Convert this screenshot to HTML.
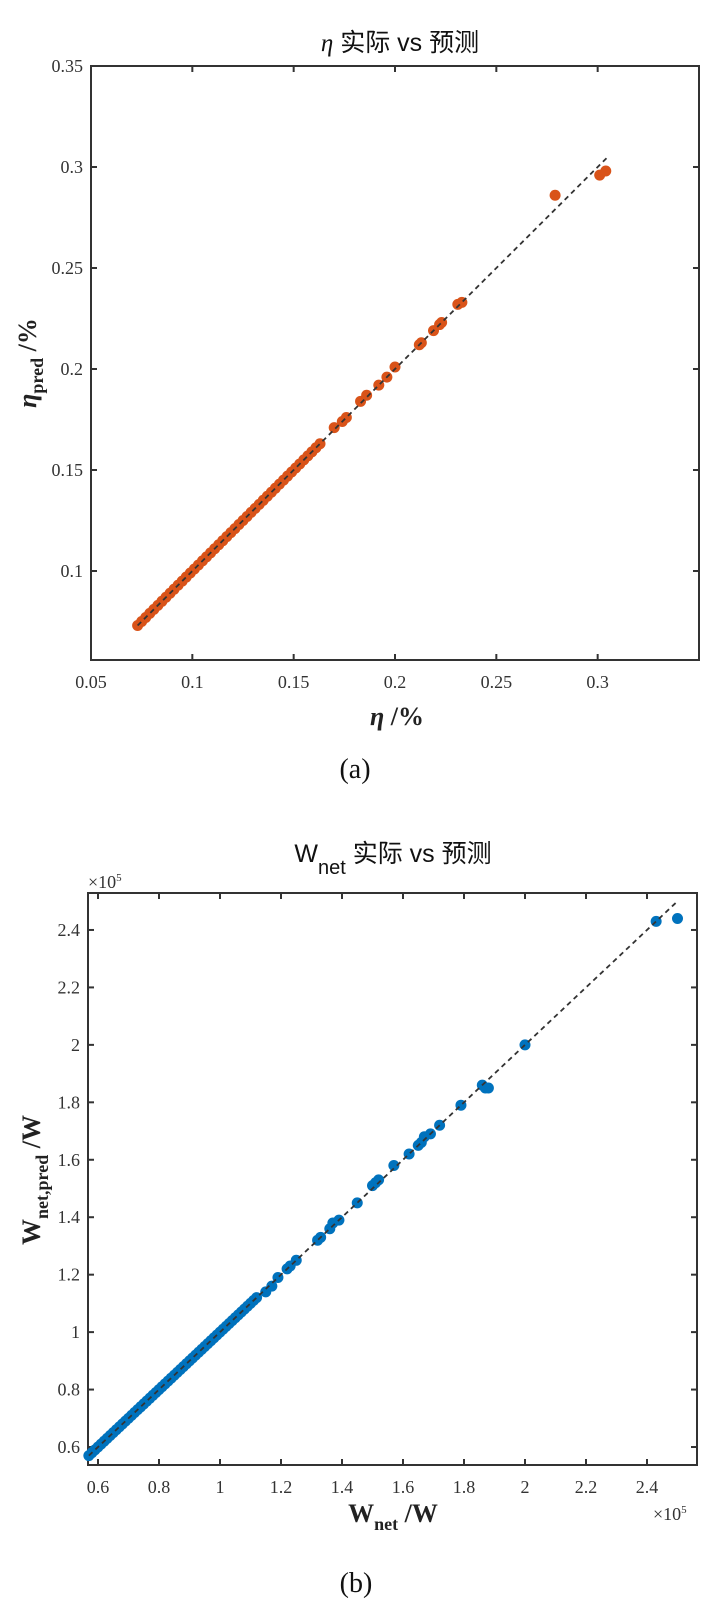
<!DOCTYPE html>
<html><head><meta charset="utf-8">
<style>
html,body{margin:0;padding:0;background:#fff;}
svg{display:block;}
.tk{font-family:"Liberation Serif",serif;font-size:18px;fill:#333;}
.ttl{font-family:"Liberation Sans","Noto Sans CJK SC",sans-serif;font-size:25px;fill:#111;}
.lab{font-family:"Liberation Serif",serif;font-size:26px;font-weight:bold;fill:#222;}
.cap{font-family:"Liberation Serif",serif;font-size:28px;fill:#111;}
</style></head>
<body>
<svg id="fig" width="711" height="1624" xmlns="http://www.w3.org/2000/svg">
<text class="ttl" x="400" y="51" text-anchor="middle"><tspan font-family="Liberation Serif" font-style="italic">η</tspan> 实际 vs 预测</text>
<text class="lab" x="397" y="725" text-anchor="middle"><tspan font-style="italic">η</tspan> /%</text>
<text class="lab" transform="translate(36,363) rotate(-90)" text-anchor="middle"><tspan font-style="italic">η</tspan><tspan font-size="18" dy="7">pred</tspan><tspan dy="-7"> /%</tspan></text>
<text class="cap" x="355" y="778" text-anchor="middle">(a)</text>

<text class="ttl" x="393" y="862" text-anchor="middle">W<tspan font-size="20" dy="12">net</tspan><tspan dy="-12"> 实际 vs 预测</tspan></text>
<text class="tk" x="88" y="888" font-size="16">×10<tspan font-size="11" dy="-7">5</tspan></text>
<text class="tk" x="653" y="1520" font-size="16">×10<tspan font-size="11" dy="-7">5</tspan></text>
<text class="lab" x="393" y="1522" text-anchor="middle">W<tspan font-size="18" dy="8">net</tspan><tspan dy="-8"> /W</tspan></text>
<text class="lab" transform="translate(40,1180) rotate(-90)" text-anchor="middle">W<tspan font-size="18" dy="8">net,pred</tspan><tspan dy="-8"> /W</tspan></text>
<text class="cap" x="356" y="1592" text-anchor="middle">(b)</text>
</svg>
<script>
// Chart A data
const etaActual = [0.073,0.075,0.077,0.079,0.081,0.083,0.085,0.087,0.089,0.091,0.093,0.095,0.097,0.099,0.101,0.103,0.105,0.107,0.109,0.111,0.113,0.115,0.117,0.119,0.121,0.123,0.125,0.127,0.129,0.131,0.133,0.135,0.137,0.139,0.141,0.143,0.145,0.147,0.149,0.151,0.153,0.155,0.157,0.159,0.161,0.163,0.170,0.174,0.176,0.183,0.186,0.192,0.196,0.200,0.212,0.213,0.219,0.222,0.223,0.231,0.233,0.279,0.301,0.304];
const etaPred = [0.073,0.075,0.077,0.079,0.081,0.083,0.085,0.087,0.089,0.091,0.093,0.095,0.097,0.099,0.101,0.103,0.105,0.107,0.109,0.111,0.113,0.115,0.117,0.119,0.121,0.123,0.125,0.127,0.129,0.131,0.133,0.135,0.137,0.139,0.141,0.143,0.145,0.147,0.149,0.151,0.153,0.155,0.157,0.159,0.161,0.163,0.171,0.174,0.176,0.184,0.187,0.192,0.196,0.201,0.212,0.213,0.219,0.222,0.223,0.232,0.233,0.286,0.296,0.298];
const etaTicksX = [0.05,0.1,0.15,0.2,0.25,0.3];
const etaTicksY = [0.1,0.15,0.2,0.25,0.3,0.35];
const etaTickLabels = ["0.05","0.1","0.15","0.2","0.25","0.3"];
const etaTickLabelsY = ["0.1","0.15","0.2","0.25","0.3","0.35"];
const etaLine = [0.073,0.305];
// Chart B data (x1e5)
const wActual = [0.57,0.58,0.59,0.60,0.61,0.62,0.63,0.64,0.65,0.66,0.67,0.68,0.69,0.70,0.71,0.72,0.73,0.74,0.75,0.76,0.77,0.78,0.79,0.80,0.81,0.82,0.83,0.84,0.85,0.86,0.87,0.88,0.89,0.90,0.91,0.92,0.93,0.94,0.95,0.96,0.97,0.98,0.99,1.00,1.01,1.02,1.03,1.04,1.05,1.06,1.07,1.08,1.09,1.10,1.11,1.12,1.15,1.17,1.19,1.22,1.23,1.25,1.32,1.33,1.36,1.37,1.39,1.45,1.50,1.51,1.52,1.57,1.62,1.65,1.66,1.67,1.69,1.72,1.79,1.86,1.87,1.88,2.00,2.43,2.50];
const wPred = [0.57,0.58,0.59,0.60,0.61,0.62,0.63,0.64,0.65,0.66,0.67,0.68,0.69,0.70,0.71,0.72,0.73,0.74,0.75,0.76,0.77,0.78,0.79,0.80,0.81,0.82,0.83,0.84,0.85,0.86,0.87,0.88,0.89,0.90,0.91,0.92,0.93,0.94,0.95,0.96,0.97,0.98,0.99,1.00,1.01,1.02,1.03,1.04,1.05,1.06,1.07,1.08,1.09,1.10,1.11,1.12,1.14,1.16,1.19,1.22,1.23,1.25,1.32,1.33,1.36,1.38,1.39,1.45,1.51,1.52,1.53,1.58,1.62,1.65,1.66,1.68,1.69,1.72,1.79,1.86,1.85,1.85,2.00,2.43,2.44];
const wTicksX = [0.6,0.8,1,1.2,1.4,1.6,1.8,2,2.2,2.4];
const wTickLabelsX = ["0.6","0.8","1","1.2","1.4","1.6","1.8","2","2.2","2.4"];
const wTicksY = [0.6,0.8,1,1.2,1.4,1.6,1.8,2,2.2,2.4];
const wTickLabelsY = ["0.6","0.8","1","1.2","1.4","1.6","1.8","2","2.2","2.4"];
const wLine = [0.57,2.5];

const NS="http://www.w3.org/2000/svg";
const svg=document.getElementById('fig');
function mk(tag,attrs){const e=document.createElementNS(NS,tag);for(const k in attrs)e.setAttribute(k,attrs[k]);return e;}

function chart(id,box,xd,yd,xs,ys,line,tx,txl,ty,tyl,color){
  const sx=v=>box.l+(v-xd[0])/(xd[1]-xd[0])*(box.r-box.l);
  const sy=v=>box.b-(v-yd[0])/(yd[1]-yd[0])*(box.b-box.t);
  const g=mk('g',{});
  
  
  svg.appendChild(g);
  const frame=mk('rect',{x:box.l,y:box.t,width:box.r-box.l,height:box.b-box.t,fill:'none',stroke:'#333','stroke-width':2});
  
  
  g.appendChild(frame);
  tx.forEach((v,i)=>{
    const x=sx(v);
    const t1=mk('line',{x1:x,x2:x,y1:box.b,y2:box.b-6,stroke:'#333','stroke-width':2});
    
    
    g.appendChild(t1);
    const t2=mk('line',{x1:x,x2:x,y1:box.t,y2:box.t+6,stroke:'#333','stroke-width':2});
    
    
    g.appendChild(t2);
    const lb=mk('text',{x:x,y:box.b+28,'text-anchor':'middle',class:'tk'});
    lb.textContent=txl[i];
    
    
    g.appendChild(lb);
  });
  ty.forEach((v,i)=>{
    const y=sy(v);
    const t1=mk('line',{x1:box.l,x2:box.l+6,y1:y,y2:y,stroke:'#333','stroke-width':2});
    
    
    g.appendChild(t1);
    const t2=mk('line',{x1:box.r,x2:box.r-6,y1:y,y2:y,stroke:'#333','stroke-width':2});
    
    
    g.appendChild(t2);
    const lb=mk('text',{x:box.l-8,y:y+6,'text-anchor':'end',class:'tk'});
    lb.textContent=tyl[i];
    
    
    g.appendChild(lb);
  });
  xs.forEach((v,i)=>{
    const c=mk('circle',{cx:sx(v),cy:sy(ys[i]),r:5.5,fill:color});
    
    
    g.appendChild(c);
  });
  const ln=mk('line',{x1:sx(line[0]),y1:sy(line[0]),x2:sx(line[1]),y2:sy(line[1]),stroke:'#333','stroke-width':1.8,'stroke-dasharray':'5,4'});
  
  
  g.appendChild(ln);
}
chart('chart-a',{l:91,r:699,t:66,b:660},[0.05,0.35],[0.35-594/101*0.05,0.35],etaActual,etaPred,etaLine,etaTicksX,etaTickLabels,etaTicksY,etaTickLabelsY,'#D95319');
chart('chart-b',{l:88,r:697,t:893,b:1465},[0.6-10/305,2.4+50/305],[0.6-18/287.5,2.4+37/287.5],wActual,wPred,wLine,wTicksX,wTickLabelsX,wTicksY,wTickLabelsY,'#0072BD');
</script>
</body></html>
